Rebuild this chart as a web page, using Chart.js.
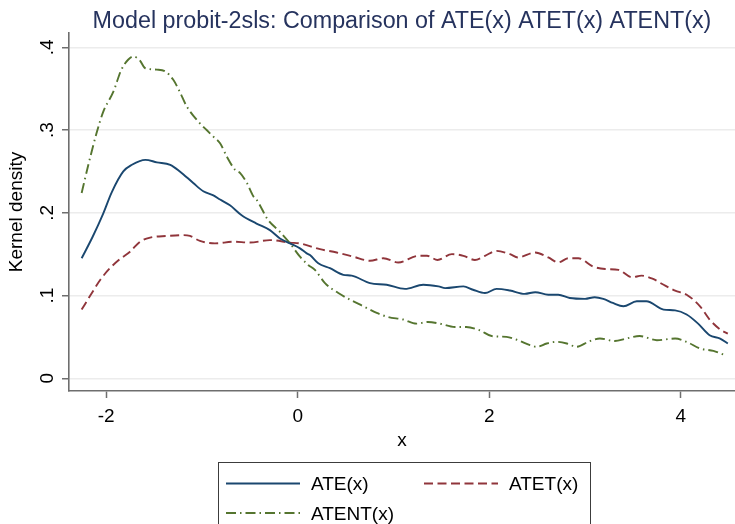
<!DOCTYPE html>
<html>
<head>
<meta charset="utf-8">
<script src="https://cdn.jsdelivr.net/npm/chart.js@4/dist/chart.umd.min.js"></script>
<style>
  html, body { margin: 0; padding: 0; background: #ffffff; }
  #wrap { width: 735px; height: 524px; }
</style>
</head>
<body>
<div id="wrap"><canvas id="c" width="735" height="524"></canvas></div>
<script>
// Kernel density estimates of the treatment effects
const titleText = 'Model probit-2sls: Comparison of ATE(x) ATET(x) ATENT(x)';
const xAxisTitle = 'x';
const yAxisTitle = 'Kernel density';
const seriesNames = ['ATE(x)', 'ATET(x)', 'ATENT(x)'];

const xTickValues = [-2, 0, 2, 4];
const xTickLabels = ['-2', '0', '2', '4'];
const yTickValues = [0, 0.1, 0.2, 0.3, 0.4];
const yTickLabels = ['0', '.1', '.2', '.3', '.4'];

const ateX = [-2.255, -2.14, -2.03, -1.94, -1.82, -1.73, -1.59, -1.47, -1.33, -1.23, -1.09, -0.985, -0.88, -0.81, -0.707, -0.585, -0.43, -0.29, -0.185, -0.08, 0.024, 0.094, 0.128, 0.215, 0.337, 0.476, 0.564, 0.755, 0.929, 1.12, 1.31, 1.47, 1.54, 1.73, 1.83, 1.955, 2.077, 2.216, 2.37, 2.48, 2.616, 2.72, 2.84, 3.0, 3.10, 3.19, 3.29, 3.40, 3.54, 3.64, 3.82, 3.94, 4.06, 4.18, 4.30, 4.41, 4.49];
const ateY = [0.145, 0.171, 0.199, 0.225, 0.250, 0.258, 0.264, 0.261, 0.258, 0.250, 0.236, 0.226, 0.221, 0.216, 0.209, 0.197, 0.187, 0.179, 0.169, 0.163, 0.157, 0.151, 0.149, 0.139, 0.133, 0.125, 0.124, 0.115, 0.113, 0.108, 0.113, 0.111, 0.109, 0.111, 0.107, 0.103, 0.108, 0.106, 0.102, 0.104, 0.101, 0.101, 0.097, 0.096, 0.098, 0.096, 0.091, 0.087, 0.093, 0.093, 0.083, 0.082, 0.077, 0.066, 0.052, 0.048, 0.042];

const atetX = [-2.255, -2.17, -2.06, -1.96, -1.855, -1.75, -1.646, -1.54, -1.367, -1.194, -1.124, -1.02, -0.863, -0.672, -0.498, -0.29, -0.08, 0.024, 0.233, 0.407, 0.58, 0.755, 0.894, 1.05, 1.26, 1.35, 1.46, 1.61, 1.73, 1.85, 1.955, 2.077, 2.216, 2.30, 2.48, 2.616, 2.72, 2.825, 2.93, 3.085, 3.21, 3.35, 3.49, 3.59, 3.71, 3.82, 3.94, 4.06, 4.20, 4.30, 4.41, 4.49];
const atetY = [0.083, 0.099, 0.119, 0.133, 0.144, 0.153, 0.165, 0.170, 0.172, 0.173, 0.172, 0.166, 0.163, 0.165, 0.164, 0.167, 0.164, 0.163, 0.156, 0.152, 0.147, 0.142, 0.145, 0.140, 0.148, 0.148, 0.143, 0.150, 0.148, 0.143, 0.148, 0.154, 0.150, 0.146, 0.152, 0.146, 0.140, 0.145, 0.145, 0.135, 0.132, 0.131, 0.122, 0.124, 0.120, 0.113, 0.106, 0.101, 0.087, 0.071, 0.059, 0.054];

const atentX = [-2.255, -2.185, -2.10, -2.03, -1.925, -1.84, -1.77, -1.716, -1.646, -1.594, -1.47, -1.385, -1.30, -1.23, -1.16, -1.02, -0.95, -0.88, -0.81, -0.74, -0.654, -0.60, -0.53, -0.463, -0.43, -0.307, -0.185, -0.08, 0.024, 0.11, 0.18, 0.285, 0.424, 0.546, 0.685, 0.825, 0.946, 1.10, 1.24, 1.36, 1.485, 1.64, 1.76, 1.90, 2.025, 2.18, 2.30, 2.425, 2.495, 2.60, 2.70, 2.81, 2.91, 3.05, 3.155, 3.31, 3.43, 3.57, 3.75, 3.94, 4.06, 4.20, 4.34, 4.48];
const atentY = [0.224, 0.258, 0.296, 0.322, 0.346, 0.373, 0.385, 0.389, 0.384, 0.375, 0.373, 0.371, 0.361, 0.346, 0.329, 0.308, 0.300, 0.292, 0.284, 0.268, 0.252, 0.248, 0.236, 0.220, 0.216, 0.191, 0.177, 0.163, 0.147, 0.137, 0.131, 0.115, 0.103, 0.095, 0.087, 0.079, 0.074, 0.071, 0.066, 0.068, 0.066, 0.062, 0.062, 0.058, 0.051, 0.050, 0.046, 0.040, 0.038, 0.042, 0.044, 0.042, 0.038, 0.045, 0.048, 0.045, 0.048, 0.051, 0.046, 0.048, 0.044, 0.036, 0.033, 0.027];

const FONT = '"Liberation Sans", Arial, Helvetica, sans-serif';
const AXIS_GRAY = '#6e6e6e';
const GRID_GRAY = '#ececec';
const TITLE_COLOR = '#26335e';
const colors = ['#1a476f', '#90353b', '#55752f'];
const dashes = [[], [9, 4.5], [10, 4, 1.5, 4]];

const toPoints = (xs, ys) => xs.map((v, i) => ({ x: v, y: ys[i] }));
const seriesData = [toPoints(ateX, ateY), toPoints(atetX, atetY), toPoints(atentX, atentY)];

const datasets = seriesNames.map((name, i) => ({
  label: name,
  data: seriesData[i],
  borderColor: colors[i],
  borderWidth: 1.9,
  borderDash: dashes[i],
  borderCapStyle: 'butt',
  pointRadius: 0,
  fill: false,
  cubicInterpolationMode: 'monotone'
}));

// Title, rotated y labels, axis titles and the boxed legend
const decorations = {
  id: 'decorations',
  afterDraw(chart) {
    const { ctx, chartArea, scales } = chart;
    const y = scales.y;
    ctx.save();

    ctx.fillStyle = TITLE_COLOR;
    ctx.font = '23.3px ' + FONT;
    ctx.textAlign = 'center';
    ctx.textBaseline = 'alphabetic';
    ctx.fillText(titleText, (chartArea.left + chartArea.right) / 2, 27.5);

    ctx.fillStyle = '#000000';
    ctx.font = '19px ' + FONT;
    yTickValues.forEach((v, i) => {
      const py = y.getPixelForValue(v);
      ctx.save();
      ctx.translate(53, py);
      ctx.rotate(-Math.PI / 2);
      ctx.textAlign = 'center';
      ctx.fillText(yTickLabels[i], 0, 0);
      ctx.restore();
    });

    ctx.save();
    ctx.translate(21.5, (chartArea.top + chartArea.bottom) / 2);
    ctx.rotate(-Math.PI / 2);
    ctx.textAlign = 'center';
    ctx.fillText(yAxisTitle, 0, 0);
    ctx.restore();

    ctx.textAlign = 'center';
    ctx.fillText(xAxisTitle, (chartArea.left + chartArea.right) / 2, 446);

    // legend
    ctx.strokeStyle = '#3c3c3c';
    ctx.lineWidth = 1;
    ctx.strokeRect(218.5, 462.5, 372, 80);
    const slots = [
      { x: 226, y: 483.5 },
      { x: 424, y: 483.5 },
      { x: 226, y: 513 }
    ];
    chart.data.datasets.forEach((ds, i) => {
      const s = slots[i];
      ctx.save();
      ctx.strokeStyle = ds.borderColor;
      ctx.lineWidth = ds.borderWidth;
      ctx.setLineDash(ds.borderDash);
      ctx.beginPath();
      ctx.moveTo(s.x, s.y);
      ctx.lineTo(s.x + 74, s.y);
      ctx.stroke();
      ctx.restore();
      ctx.fillStyle = '#000000';
      ctx.textAlign = 'left';
      ctx.fillText(ds.label, s.x + 85, s.y + 6.5);
    });

    ctx.restore();
  }
};

new Chart(document.getElementById('c'), {
  type: 'line',
  data: { datasets },
  plugins: [decorations],
  options: {
    responsive: false,
    animation: false,
    events: [],
    layout: { padding: { top: 33, right: 0, bottom: 0, left: 0 } },
    plugins: {
      legend: { display: false },
      title: { display: false },
      tooltip: { enabled: false }
    },
    scales: {
      x: {
        type: 'linear',
        min: -2.387,
        max: 4.565,
        afterBuildTicks: s => { s.ticks = xTickValues.map(v => ({ value: v })); },
        afterFit: s => { s.height = 133; },
        grid: { drawOnChartArea: false, drawTicks: true, tickLength: 7, tickColor: AXIS_GRAY, tickWidth: 1.5 },
        border: { display: true, color: AXIS_GRAY, width: 1.6 },
        ticks: {
          color: '#000000',
          font: { family: FONT, size: 19 },
          padding: 7,
          maxRotation: 0,
          autoSkip: false,
          callback: (v) => xTickLabels[xTickValues.indexOf(v)]
        }
      },
      y: {
        type: 'linear',
        min: -0.0154,
        max: 0.4173,
        afterBuildTicks: s => { s.ticks = yTickValues.map(v => ({ value: v })); },
        afterFit: s => { s.width = 69; },
        grid: { color: GRID_GRAY, lineWidth: 1.5, drawTicks: true, tickLength: 7, tickColor: AXIS_GRAY, tickWidth: 1.5 },
        border: { display: true, color: AXIS_GRAY, width: 1.6 },
        ticks: { display: false }
      }
    }
  }
});
</script>
</body>
</html>
